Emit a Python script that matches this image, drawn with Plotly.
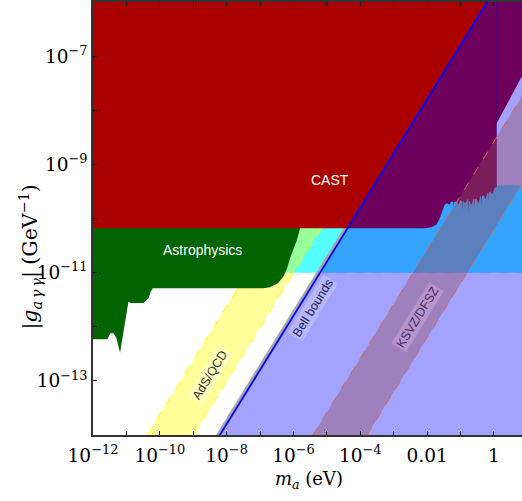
import numpy as np
import plotly.graph_objects as go

# ---------------- data (log10 of m_a [eV] and |g_a\u03b3\u03b3| [GeV^-1]) ----------------

# CAST helioscope exclusion
cast_logm = [-12.5, -2.07, -1.87, -1.72, -1.63, -1.54, -1.48,
             -1.418, -1.328, -1.269, -1.22, -1.21, -1.20, -1.119, -1.060, -1.000,
             -0.95, -0.94, -0.93, -0.851, -0.791, -0.77, -0.761, -0.75, -0.672,
             -0.612, -0.59, -0.582, -0.57, -0.522, -0.463, -0.403, -0.38, -0.373,
             -0.36, -0.313, -0.254, -0.194, -0.17, -0.164, -0.155, -0.104, -0.045,
             0.015, 0.075, 0.075, 0.82, 1.5, 1.5, -12.5]
cast_logg = [-10.18, -10.18, -10.16, -10.11, -10.01, -9.87, -9.75,
             -9.72, -9.74, -9.68, -9.70, -9.79, -9.70, -9.68, -9.74, -9.66,
             -9.68, -9.85, -9.68, -9.72, -9.64, -9.66, -9.90, -9.66, -9.75,
             -9.63, -9.65, -9.81, -9.64, -9.64, -9.72, -9.59, -9.60, -9.75,
             -9.58, -9.57, -9.64, -9.53, -9.54, -9.68, -9.52, -9.50, -9.55,
             -9.44, -9.42, -8.25, -7.39, -7.39, -5.5, -5.5]

# Astrophysical bounds
astro_logm = [-12.5, -12.5, -11.57, -11.48, -11.39, -11.30, -11.19, -10.94,
              -10.87, -10.49, -10.34, -10.27, -10.21, -6.91, -6.70, -6.46,
              -6.31, -6.19, -6.10, -6.01, -5.90, -5.81, -5.78]
astro_logg = [-10.0, -12.23, -12.23, -12.12, -12.12, -12.21, -12.48, -11.54,
              -11.56, -11.56, -11.48, -11.35, -11.29, -11.29, -11.27, -11.19,
              -11.08, -10.92, -10.73, -10.59, -10.40, -10.20, -10.0]

# Cyan exclusion band
cyan_logm = [-9.0, 1.5, 1.5, -9.0]
cyan_logg = [-11.0, -11.0, -9.39, -9.39]

# AdS/QCD band edges
ads_upper_logm = [-10.38, -2.38]
ads_upper_logg = [-14.0, -6.0]
ads_lower_logm = [-8.99, -0.99]
ads_lower_logg = [-14.0, -6.0]

# Bell bounds line and its grey strip
bell_logm = [-8.20, -0.20]
bell_logg = [-14.0, -6.0]
bell_strip_logm = [-8.32, -0.32, -0.20, -8.20]
bell_strip_logg = [-14.0, -6.0, -6.0, -14.0]
bell_region_logm = [-8.24, -0.24, 1.5, 1.5]
bell_region_logg = [-14.0, -6.0, -6.0, -14.0]

# KSVZ/DFSZ band edges
ksvz_upper_logm = [-5.42, 1.5]
ksvz_upper_logg = [-14.0, -7.08]
ksvz_lower_logm = [-3.80, 1.5]
ksvz_lower_logg = [-14.0, -8.70]

# axis tick labels (every second decade)
x_exps = [-12, -10, -8, -6, -4, -2, 0]
x_text = ["10<sup>\u221212</sup>", "10<sup>\u221210</sup>", "10<sup>\u22128</sup>",
          "10<sup>\u22126</sup>", "10<sup>\u22124</sup>", "0.01", "1"]
y_exps = [-13, -11, -9, -7]
y_text = ["10<sup>\u221213</sup>", "10<sup>\u221211</sup>",
          "10<sup>\u22129</sup>", "10<sup>\u22127</sup>"]


def lin(v):
    return 10.0 ** np.asarray(v, dtype=float)


fig = go.Figure()


def area(lm, lg, color, line_color=None, dash=None, width=0):
    fig.add_trace(go.Scatter(
        x=lin(lm), y=lin(lg), mode="lines", fill="toself", fillcolor=color,
        line=dict(color=line_color or "rgba(0,0,0,0)", width=width, dash=dash),
        hoverinfo="skip", showlegend=False))


def edge(lm, lg, color, width=1, dash=None):
    fig.add_trace(go.Scatter(
        x=lin(lm), y=lin(lg), mode="lines",
        line=dict(color=color, width=width, dash=dash),
        hoverinfo="skip", showlegend=False))


# cyan band
area(cyan_logm, cyan_logg, "#55FFFF", "rgba(150,225,255,1)", "dash", 1)

# AdS/QCD band
area(ads_upper_logm + ads_lower_logm[::-1], ads_upper_logg + ads_lower_logg[::-1],
     "rgba(255,255,0,0.4)")
edge(ads_upper_logm, ads_upper_logg, "#FFFF00", 1, "dash")
edge(ads_lower_logm, ads_lower_logg, "#FFFF00", 1, "dash")

# astrophysics
area(astro_logm, astro_logg, "#006400")

# grey strip alongside the Bell line
area(bell_strip_logm, bell_strip_logg, "#A8A8A8")

# CAST
area(cast_logm, cast_logg, "#AA0000")
edge([0.075, 0.075], [-9.42, -6.0], "rgba(100,0,60,0.6)", 1)

# Bell bounds region and line
area(bell_region_logm, bell_region_logg, "rgba(0,0,255,0.36)")
edge(bell_logm, bell_logg, "#0000FF", 1.6)

# KSVZ/DFSZ band
area(ksvz_upper_logm + ksvz_lower_logm[::-1], ksvz_upper_logg + ksvz_lower_logg[::-1],
     "rgba(150,75,90,0.4)")
edge(ksvz_upper_logm, ksvz_upper_logg, "#D46A4E", 1, "dash")
edge(ksvz_lower_logm, ksvz_lower_logg, "#D46A4E", 1, "dash")

tick_font = dict(family="DejaVu Serif", size=18.5, color="black")
label_font = dict(family="Liberation Sans", size=14, color="white")
decade_ticks = dict(ticks="inside", ticklen=4, tickcolor="black", dtick=1, tick0=0)

fig.update_xaxes(
    type="log", range=[-12, 0.84],
    tickmode="array", tickvals=[10.0 ** e for e in x_exps], ticktext=x_text,
    ticks="inside", ticklen=4, tickcolor="black", ticklabelstandoff=3,
    minor=decade_ticks,
    showline=True, linecolor="#333", linewidth=1.5, mirror="ticks",
    showgrid=False, zeroline=False, tickfont=tick_font)
fig.update_yaxes(
    type="log", range=[-14, -6],
    tickmode="array", tickvals=[10.0 ** e for e in y_exps], ticktext=y_text,
    ticks="inside", ticklen=4, tickcolor="black",
    minor=decade_ticks,
    showline=True, linecolor="#333", linewidth=1.5, mirror=False,
    showgrid=False, zeroline=False, tickfont=tick_font)

ang = -58.3
rot_size = 12.5
annotations = [
    dict(x=-4.9, y=-9.29, text="CAST", font=label_font),
    dict(x=-8.73, y=-10.59, text="Astrophysics", font=label_font),
    dict(x=-8.49, y=-12.90, text="AdS/QCD", textangle=ang,
         font=dict(family="Liberation Sans", size=rot_size, color="#333333"),
         bgcolor="rgba(255,255,215,0.6)"),
    dict(x=-5.42, y=-11.65, text="Bell bounds", textangle=ang,
         font=dict(family="Liberation Sans", size=rot_size, color="#20204A"),
         bgcolor="rgba(200,200,255,0.55)"),
    dict(x=-2.28, y=-11.82, text="KSVZ/DFSZ", textangle=ang,
         font=dict(family="Liberation Sans", size=rot_size, color="#4A2A66"),
         bgcolor="rgba(200,165,215,0.55)"),
]
for a in annotations:
    a.update(xref="x", yref="y", showarrow=False, borderpad=1)

annotations.append(dict(
    xref="paper", yref="paper", x=-0.185, y=0.41, showarrow=False, textangle=-90,
    text="|<i>g</i><sub><i>a\u2009\u03b3\u2009\u03b3</i></sub>| (GeV<sup>\u22121</sup>)",
    font=dict(family="DejaVu Serif", size=20.5, color="black")))
annotations.append(dict(
    xref="paper", yref="paper", x=0.503, y=-0.104, showarrow=False,
    yanchor="middle",
    text="<i>m</i><sub><i>a</i></sub> (eV)",
    font=dict(family="DejaVu Serif", size=18, color="black")))

fig.update_layout(
    width=522, height=501,
    margin=dict(l=93, r=0, t=2, b=66),
    paper_bgcolor="white", plot_bgcolor="white",
    annotations=annotations, showlegend=False)

fig.write_html("out.html")
